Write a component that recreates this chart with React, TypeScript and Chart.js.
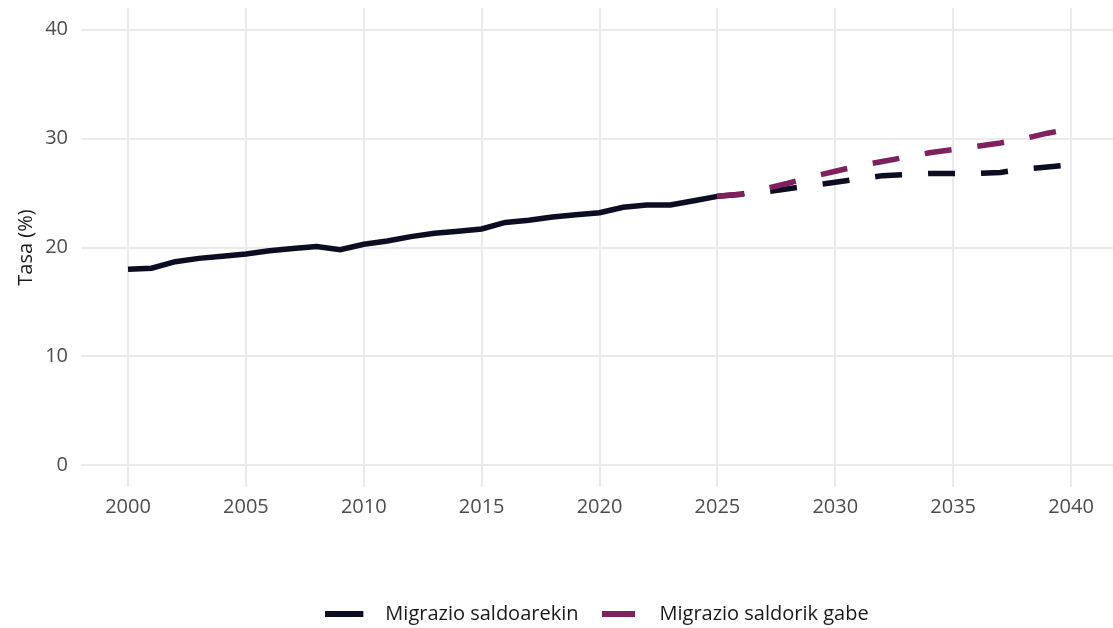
import React, { useEffect, useRef } from "react";
import { Chart, registerables } from "chart.js";

Chart.register(...registerables);

const histYears = [2000, 2001, 2002, 2003, 2004, 2005, 2006, 2007, 2008, 2009, 2010, 2011, 2012, 2013, 2014, 2015, 2016, 2017, 2018, 2019, 2020, 2021, 2022, 2023, 2024];
const histValues = [18.0, 18.1, 18.7, 19.0, 19.2, 19.4, 19.7, 19.9, 20.1, 19.8, 20.3, 20.6, 21.0, 21.3, 21.5, 21.7, 22.3, 22.5, 22.8, 23.0, 23.2, 23.7, 23.9, 23.9, 24.3];
const projYears = [2025, 2026, 2027, 2028, 2029, 2030, 2031, 2032, 2033, 2034, 2035, 2036, 2037, 2038, 2039, 2040];
const withMigration = [24.7, 24.9, 25.1, 25.4, 25.7, 26.0, 26.3, 26.6, 26.7, 26.8, 26.8, 26.8, 26.9, 27.2, 27.4, 27.6];
const withoutMigration = [24.7, 24.9, 25.4, 25.9, 26.5, 27.0, 27.5, 27.9, 28.3, 28.7, 29.0, 29.3, 29.6, 30.0, 30.5, 30.9];
const xTicks = [2000, 2005, 2010, 2015, 2020, 2025, 2030, 2035, 2040];
const yTicks = [0, 10, 20, 30, 40];
const seriesLabels = ["Migrazio saldoarekin", "Migrazio saldorik gabe"];

const BLACK = "#0c0c22";
const PURPLE = "#80205f";
const DASH = [27, 26];
const FONT = "'Open Sans', sans-serif";

function makeKey(color: string, lineLen: number, total: number, thick: number) {
  const c = document.createElement("canvas");
  c.width = total;
  c.height = thick;
  const g = c.getContext("2d");
  if (g) {
    g.fillStyle = color;
    g.fillRect(0, 0, lineLen, thick);
  }
  return c;
}

export default function App() {
  const ref = useRef<HTMLCanvasElement | null>(null);

  useEffect(() => {
    if (!ref.current) return;
    const blackData = [
      ...histYears.map((x, i) => ({ x, y: histValues[i] })),
      ...projYears.map((x, i) => ({ x, y: withMigration[i] })),
    ];
    const purpleData = projYears.map((x, i) => ({ x, y: withoutMigration[i] }));
    const keys = [makeKey(BLACK, 38, 50, 6), makeKey(PURPLE, 33, 45, 6)];

    const chart = new Chart(ref.current, {
      type: "line",
      data: {
        datasets: [
          {
            label: seriesLabels[0],
            data: blackData,
            borderColor: BLACK,
            backgroundColor: BLACK,
            borderWidth: 5.5,
            pointRadius: 0,
            borderCapStyle: "butt",
            order: 1,
            segment: {
              borderDash: (ctx: any) => (ctx.p0.parsed.x >= 2025 ? DASH : undefined),
            },
          },
          {
            label: seriesLabels[1],
            data: purpleData,
            borderColor: PURPLE,
            backgroundColor: PURPLE,
            borderWidth: 5.5,
            pointRadius: 0,
            borderCapStyle: "butt",
            borderDash: DASH,
            order: 0,
          },
        ],
      },
      options: {
        animation: false,
        responsive: false,
        maintainAspectRatio: false,
        layout: { padding: { left: 0, right: 0, top: 8, bottom: -6 } },
        plugins: {
          tooltip: { enabled: false },
          legend: {
            position: "bottom",
            fullSize: false,
            labels: {
              usePointStyle: true,
              pointStyleWidth: 50,
              boxHeight: 6,
              padding: 21,
              color: "#1a1a1a",
              font: { family: FONT, size: 20 },
              sort: (a: any, b: any) => a.datasetIndex - b.datasetIndex,
              generateLabels: (ch: any) => {
                const items = Chart.defaults.plugins.legend.labels.generateLabels(ch);
                return items.map((it: any) => ({
                  ...it,
                  pointStyle: keys[it.datasetIndex],
                  lineDash: [],
                }));
              },
            },
          },
        },
        scales: {
          x: {
            type: "linear",
            min: 1998.006,
            max: 2041.78,
            border: { display: false },
            grid: { color: "#ebebeb", lineWidth: 2, drawTicks: false },
            ticks: {
              color: "#4d4d4d",
              font: { family: FONT, size: 20 },
              padding: 8,
              callback: (v: any) => String(v),
            },
            afterBuildTicks: (scale: any) => {
              scale.ticks = xTicks.map((value) => ({ value }));
            },
            afterFit: (scale: any) => {
              scale.height = 96;
              scale.paddingLeft = 0;
              scale.paddingRight = 0;
            },
          },
          y: {
            type: "linear",
            min: -2,
            max: 42,
            border: { display: false },
            grid: { color: "#ebebeb", lineWidth: 2, drawTicks: false },
            ticks: {
              color: "#4d4d4d",
              font: { family: FONT, size: 20 },
              padding: 13,
            },
            afterBuildTicks: (scale: any) => {
              scale.ticks = yTicks.map((value) => ({ value }));
            },
            afterFit: (scale: any) => {
              scale.width = 81;
              scale.paddingTop = 0;
              scale.paddingBottom = 0;
            },
            title: {
              display: true,
              text: "Tasa (%)",
              color: "#1a1a1a",
              font: { family: FONT, size: 20 },
              padding: { top: 14, bottom: 0 },
            },
          },
        },
      },
    });
    return () => chart.destroy();
  }, []);

  return (
    <div style={{ position: "fixed", left: 0, top: 0, width: 1113, height: 628, background: "#fff" }}>
      <canvas ref={ref} width={1113} height={628} style={{ width: 1113, height: 628, display: "block" }} />
    </div>
  );
}
